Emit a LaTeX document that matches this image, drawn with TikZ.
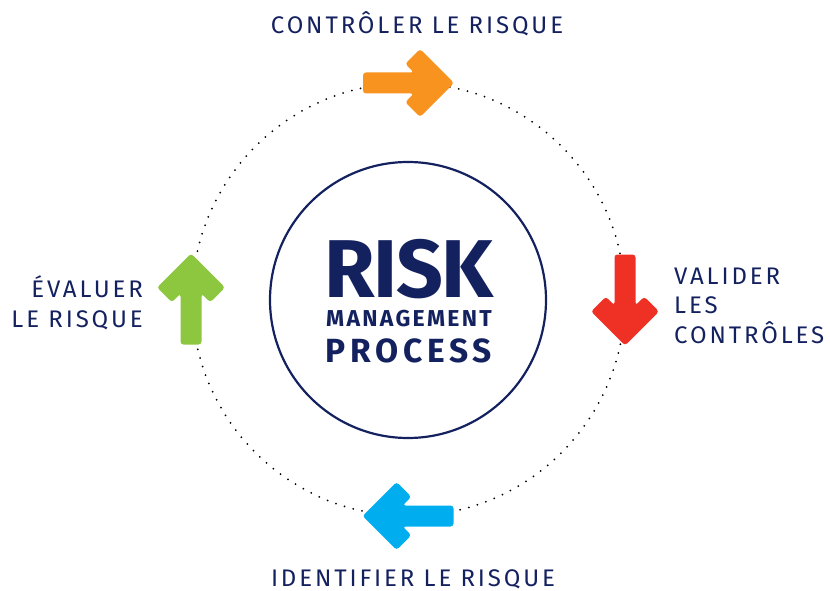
\documentclass[tikz,border=0pt]{standalone}
\usepackage{fontspec}
\setmainfont{Fira Sans}
\definecolor{navy}{HTML}{14215F}
\definecolor{riskorange}{HTML}{F7931E}
\definecolor{riskred}{HTML}{EE3124}
\definecolor{riskblue}{HTML}{00AEEF}
\definecolor{riskgreen}{HTML}{8DC63F}
\begin{document}
\begin{tikzpicture}[x=1pt, y=-1pt,
		steplabel/.style={text=navy, font=\fontsize{24}{29.5}\selectfont\addfontfeatures{LetterSpace=12}, inner sep=0},
		riskarrow/.pic={
			\fill[rounded corners=3] (45.5,0) -- (11.5,34) -- (-3.3,19.2) -- (5.4,10.5) -- (-45.5,10.5) -- (-45.5,-10.5) -- (5.4,-10.5) -- (-3.3,-19.2) -- (11.5,-34) -- cycle;
		}]
		
		\useasboundingbox (0,0) rectangle (830,591);
		
		\coordinate (o) at (408.5,299.5);
		\draw[line width=2pt, line cap=round, dash pattern=on 0pt off 9pt] (o) circle[radius=216.5];
		
		\node [circle, draw=navy, line width=2.2pt, minimum size=276pt, inner sep=0] (core) at (408,300) {};
		\node [text=navy, inner sep=0, anchor=base, align=center, font=\fontsize{23}{29}\bfseries\selectfont] (title) at (409,362)
			{{\fontsize{82}{82}\selectfont\addfontfeatures{LetterSpace=-2}RISK}\\
			{\addfontfeatures{LetterSpace=10}MANAGEMENT}\\[7pt]
			{\fontsize{33.5}{33.5}\selectfont\addfontfeatures{LetterSpace=14}PROCESS}};
		
		\pic [fill=riskorange] (controle) at (408.5,83) {riskarrow};
		\pic [fill=riskred, rotate=-90] (validation) at (625,300) {riskarrow};
		\pic [fill=riskblue, rotate=180] (identification) at (408,516) {riskarrow};
		\pic [fill=riskgreen, rotate=90] (evaluation) at (191,299) {riskarrow};
		
		\node [steplabel, anchor=base] (controler) at (417,34) {CONTRÔLER LE RISQUE};
		\node [steplabel, anchor=base west, align=left] (valider) at (674,343) {VALIDER\\LES\\CONTRÔLES};
		\node [steplabel, anchor=base] (identifier) at (413,586) {IDENTIFIER LE RISQUE};
		\node [steplabel, anchor=base east, align=right] (evaluer) at (143,327) {ÉVALUER\\LE RISQUE};
		
	\end{tikzpicture}
\end{document}
